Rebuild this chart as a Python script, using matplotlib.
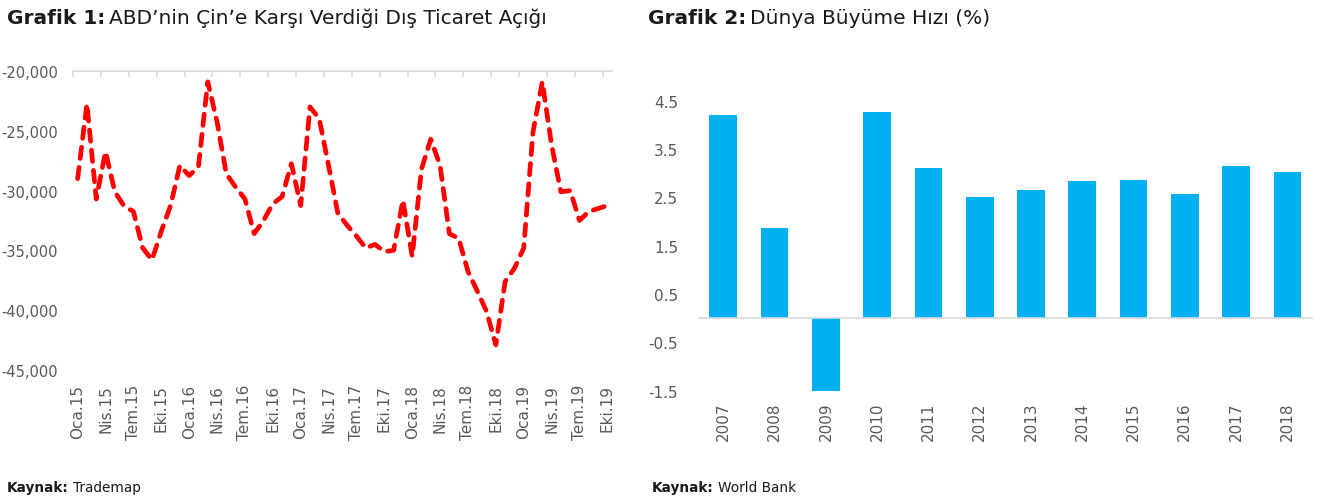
import numpy as np
import matplotlib
matplotlib.use("Agg")
import matplotlib.pyplot as plt
from matplotlib.ticker import FuncFormatter

plt.rcParams['font.family'] = ['DejaVu Sans']

# --- Grafik 1: ABD'nin Çin'e karşı dış ticaret açığı (aylık, Oca.15 - Eki.19) ---
months_tr = ['Oca', 'Şub', 'Mar', 'Nis', 'May', 'Haz', 'Tem', 'Ağu', 'Eyl', 'Eki', 'Kas', 'Ara']
trade_deficit = [
    -29000, -22750, -30700, -26750, -30100, -31300, -31750, -34800, -35800, -33400, -31250, -27900,
    -28750, -28000, -20900, -24250, -28600, -29700, -30700, -33600, -32500, -31100, -30500, -27750,
    -31250, -23000, -24000, -27900, -31900, -32900, -33800, -34800, -34500, -35100, -35000, -30800,
    -35500, -28200, -25700, -27900, -33600, -34000, -36750, -38400, -40100, -42900, -37600, -36500,
    -34800, -25100, -20900, -26200, -30100, -30000, -32500, -31750, -31500, -31250,
]
month_labels = [f"{months_tr[i % 12]}.{15 + i // 12}" for i in range(len(trade_deficit))]
deficit_ticks = [-45000, -40000, -35000, -30000, -25000, -20000]

# --- Grafik 2: Dünya büyüme hızı (%) ---
years = ['2007', '2008', '2009', '2010', '2011', '2012',
         '2013', '2014', '2015', '2016', '2017', '2018']
growth = [4.21, 1.86, -1.5, 4.26, 3.10, 2.51, 2.65, 2.83, 2.85, 2.56, 3.15, 3.03]
growth_ticks = [-1.5, -0.5, 0.5, 1.5, 2.5, 3.5, 4.5]

W, H = 1332, 502
fig = plt.figure(figsize=(W / 100, H / 100), dpi=100)

def frac_box(x0, y0, x1, y1):
    # pixel box -> figure fraction [left, bottom, width, height]
    return [x0 / W, 1 - y1 / H, (x1 - x0) / W, (y1 - y0) / H]

label_color = '#595959'
axis_color = '#d9d9d9'

# ---------- left chart ----------
ax1 = fig.add_axes(frac_box(73, 72, 612, 371))
x = np.arange(len(trade_deficit))
ax1.plot(x, trade_deficit, color='#ff0000', lw=3.4, linestyle=(0, (2.4, 1.9)),
         dash_capstyle='round', solid_joinstyle='round')
ax1.set_xlim(-0.5, len(trade_deficit) - 0.5)
ax1.set_ylim(-45000, -20000)
for s in ['left', 'right', 'bottom']:
    ax1.spines[s].set_visible(False)
ax1.spines['top'].set_color(axis_color)
ax1.spines['top'].set_linewidth(1.2)

ax1.set_yticks(deficit_ticks)
ax1.yaxis.set_major_formatter(FuncFormatter(lambda v, p: f"{v:,.0f}"))
ax1.tick_params(axis='y', length=0, pad=11, labelsize=10.5, labelcolor=label_color)

lab_pos = x[::3]
ax1.set_xticks(lab_pos)
ax1.set_xticklabels([month_labels[i] for i in lab_pos], rotation=90, va='top', ha='center')
ax1.set_xticks(np.arange(-0.5, len(trade_deficit) - 0.5, 3), minor=True)
ax1.tick_params(axis='x', which='major', length=0, pad=10, labelsize=11, labelcolor=label_color)
ax1.tick_params(axis='x', which='minor', top=True, bottom=False, direction='in',
                length=4, color=axis_color, width=1.2)

# ---------- right chart ----------
ax2 = fig.add_axes(frac_box(697.7, 77.5, 1313, 391.7))
xb = np.arange(len(years))
ax2.bar(xb, growth, width=0.54, color='#00b0f0')
ax2.axhline(0, color=axis_color, lw=1.2)
ax2.set_xlim(-0.5, len(years) - 0.5)
ax2.set_ylim(-1.5, 5.0)
for s in ax2.spines.values():
    s.set_visible(False)
ax2.set_yticks(growth_ticks)
ax2.set_yticklabels([f"{v:.1f}" for v in growth_ticks])
ax2.tick_params(axis='y', length=0, pad=14, labelsize=11, labelcolor=label_color)
ax2.set_xticks(xb)
ax2.set_xticklabels(years, rotation=90, va='top', ha='center')
ax2.tick_params(axis='x', length=0, pad=8, labelsize=11, labelcolor=label_color)

# ---------- titles and sources ----------
renderer = fig.canvas.get_renderer()

def two_part(xpx, ypx, bold, rest, size):
    t = fig.text(xpx / W, 1 - ypx / H, bold, fontsize=size, fontweight='bold',
                 va='center', ha='left', color='#1a1a1a')
    bb = t.get_window_extent(renderer=renderer)
    fig.text(bb.x1 / W + 4 / W, 1 - ypx / H, rest, fontsize=size,
             va='center', ha='left', color='#1a1a1a')

two_part(7, 18, "Grafik 1:", "ABD’nin Çin’e Karşı Verdiği Dış Ticaret Açığı", 14.5)
two_part(648, 18, "Grafik 2:", "Dünya Büyüme Hızı (%)", 14.5)
two_part(7, 488, "Kaynak:", "Trademap", 9.8)
two_part(652, 488, "Kaynak:", "World Bank", 9.8)

fig.savefig("out.png", dpi=100)
